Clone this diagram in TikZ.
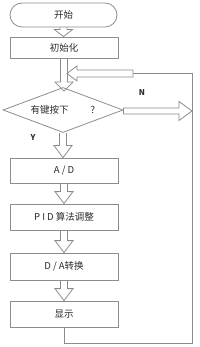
\documentclass[tikz,border=0pt]{standalone}
\usepackage{fontspec}
\setmainfont{Noto Sans CJK SC}
\usetikzlibrary{calc,shapes.geometric}
\definecolor{lc}{HTML}{8C8C8C}
\definecolor{tc}{HTML}{2A2A2A}
\tikzset{
  box/.style={draw=lc, line width=0.8pt, minimum width=108pt, inner sep=0pt, text=tc, font=\fontsize{9.5}{10}\selectfont},
  term/.style={box, rounded corners=12pt, minimum width=107pt, minimum height=24pt},
  hollow/.style={draw=lc, line width=0.8pt, line join=miter},
  thin/.style={draw=lc, line width=0.8pt},
  lab/.style={text=tc, font=\fontsize{8}{9}\selectfont\bfseries, inner sep=0pt}
}
\newcommand\hvarrow[3]{%
  \draw[hollow] let \p1=(#1), \p2=(#2) in
    (\x1-3.5,\y1) -- (\x1-3.5,\y2+#3) -- (\x1-9,\y2+#3) -- (\x1,\y2)
    -- (\x1+9,\y2+#3) -- (\x1+3.5,\y2+#3) -- (\x1+3.5,\y1);}
\begin{document}
\begin{tikzpicture}[x=1pt,y=-1pt]
\useasboundingbox (0,0) rectangle (200,347);
\node[term] (start) at (63.5,15) {开始\hspace{7pt}};
\node[box, minimum height=21pt] (init) at (64,47.5) {初始化\hspace{12pt}};
\node[diamond, aspect=2.6667, draw=lc, line width=0.8pt, minimum width=120pt, minimum height=45pt, inner sep=0pt, text=tc, font=\fontsize{9.5}{10}\selectfont] (dec) at (63,110) {有键按下\hspace{22pt}?};
\node[box, minimum height=25pt] (ad) at (64,170.5) {A / D\hspace{3pt}};
\node[box, minimum height=26pt] (pid) at (64,217) {P I D 算法调整\hspace{16pt}};
\node[box, minimum height=27pt] (da) at (64,266.5) {D / A转换\hspace{10pt}};
\node[box, minimum height=26pt] (disp) at (64,314) {显示\hspace{9pt}};
\node[lab] (nlab) at (142,93) {N};
\node[lab] (ylab) at (33,138) {Y};
% hollow arrows down
\hvarrow{start.south}{init.north}{7}
\hvarrow{init.south}{$(dec.north)+(0,4)$}{9}
\hvarrow{dec.south}{ad.north}{12}
\hvarrow{ad.south}{pid.north}{12}
\hvarrow{pid.south}{da.north}{12}
\hvarrow{da.south}{disp.north}{12}
% loop back
\coordinate (corner) at (192,73.5);
\coordinate (loopend) at (133,73.5);
\coordinate (looptip) at (67,73.5);
\draw[thin] (disp.south) -- ++(0,16) -| (corner) -- (loopend);
\draw[hollow] let \p1=(loopend), \p2=(looptip) in
  (\x1,\y1+3.5) -- (\x2+10,\y1+3.5) -- (\x2+10,\y1+7.5) -- (\x2,\y1)
  -- (\x2+10,\y1-7.5) -- (\x2+10,\y1-3.5) -- (\x1,\y1-3.5) -- cycle;
% N arrow
\coordinate (ntip) at (192,111);
\draw[hollow] let \p1=(dec.east), \p2=(ntip) in
  (\x1,\y2+3) -- (\x2-13,\y2+3) -- (\x2-13,\y2+9.5) -- (\x2,\y2)
  -- (\x2-13,\y2-9.5) -- (\x2-13,\y2-3) -- (\x1,\y2-3) -- cycle;
\end{tikzpicture}
\end{document}
